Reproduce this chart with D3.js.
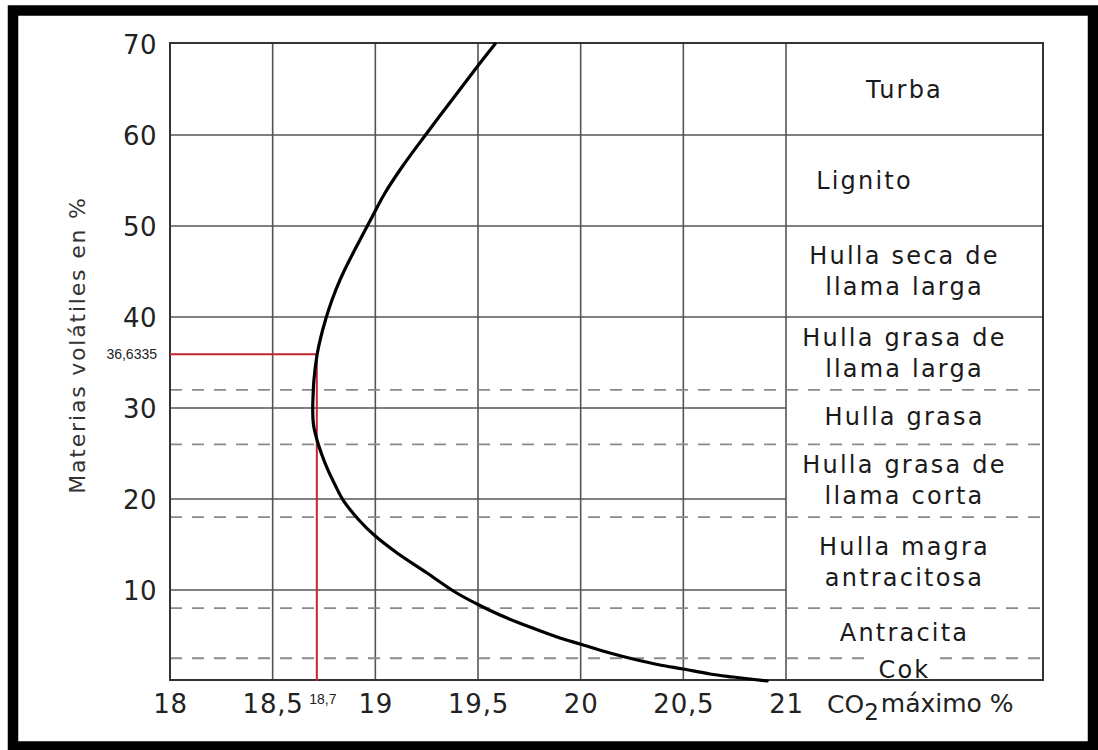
<!DOCTYPE html>
<html><head><meta charset="utf-8">
<script src="https://cdn.jsdelivr.net/npm/d3@7"></script>
<style>body{margin:0;background:#fff}</style>
</head><body>
<svg id="c" width="1098" height="750"></svg>
<script>
// ---------- data ----------
const xTickValues = [18, 18.5, 19, 19.5, 20, 20.5, 21];
const xTickLabels = ["18", "18,5", "19", "19,5", "20", "20,5", "21"];
const yTickValues = [10, 20, 30, 40, 50, 60, 70];
const yTickLabels = ["10", "20", "30", "40", "50", "60", "70"];

// curve: CO2 máximo (%) vs materias volátiles (%)
const co2Max    = [19.583, 19.495, 19.373, 19.237, 19.130, 19.047, 18.984, 18.925, 18.867, 18.828, 18.789, 18.760, 18.731, 18.716, 18.701, 18.697, 18.695, 18.699, 18.716, 18.740, 18.769, 18.804, 18.843, 18.920, 18.994, 19.106, 19.252, 19.388, 19.495, 19.607, 19.753, 19.899, 19.997, 20.143, 20.255, 20.386, 20.498, 20.630, 20.742, 20.908];
const volatiles = [70.0, 67.47, 63.85, 59.78, 56.48, 53.63, 50.99, 48.46, 45.93, 44.07, 41.87, 39.89, 37.47, 35.82, 33.08, 31.43, 29.78, 28.13, 26.48, 24.84, 23.19, 21.54, 19.89, 17.69, 16.04, 14.07, 11.87, 9.78, 8.46, 7.25, 5.93, 4.73, 4.07, 3.08, 2.42, 1.76, 1.32, 0.77, 0.44, 0.0];

// coal ranks (bands of volatile matter)
const rankNames = [["Turba"], ["Lignito"], ["Hulla seca de", "llama larga"], ["Hulla grasa de", "llama larga"],
  ["Hulla grasa"], ["Hulla grasa de", "llama corta"], ["Hulla magra", "antracitosa"], ["Antracita"], ["Cok"]];
const rankTop    = [70, 60, 50, 40, 32, 26, 18, 8, 2.5];
const rankBottom = [60, 50, 40, 32, 26, 18, 8, 2.5, 0];
const solidBounds  = [60, 50, 40];
const dashedBounds = [32, 26, 18, 8, 2.5];

// reference reading (red lines)
const refCo2 = 18.715, refVol = 35.9;
const refCo2Label = "18,7", refVolLabel = "36,6335";

// ---------- drawing ----------
const svg = d3.select("#c");
const x = d3.scaleLinear().domain([18, 21]).range([170, 786]);
const y = d3.scaleLinear().domain([0, 70]).range([681, 44]);
const tableRight = 1043;
const gridColor = "#555";
const font = "'DejaVu Sans', Verdana, sans-serif";

svg.append("rect").attr("x", 0).attr("y", 0).attr("width", 1098).attr("height", 750).attr("fill", "#fff");

const g = svg.append("g");

// vertical grid lines
g.selectAll("line.vx").data(xTickValues.filter(v => v > 18)).join("line")
  .attr("x1", d => x(d)).attr("x2", d => x(d))
  .attr("y1", y(70)).attr("y2", y(0))
  .attr("stroke", gridColor).attr("stroke-width", 1.6);

// horizontal solid grid (chart area only)
g.selectAll("line.hy").data(yTickValues.filter(v => v < 70 && !solidBounds.includes(v))).join("line")
  .attr("x1", x(18)).attr("x2", x(21))
  .attr("y1", d => y(d)).attr("y2", d => y(d))
  .attr("stroke", gridColor).attr("stroke-width", 1.6);

// solid bounds that cross into the table
g.selectAll("line.hs").data(solidBounds).join("line")
  .attr("x1", x(18)).attr("x2", tableRight)
  .attr("y1", d => y(d)).attr("y2", d => y(d))
  .attr("stroke", gridColor).attr("stroke-width", 1.6);

// dashed bounds
g.selectAll("line.hd").data(dashedBounds).join("line")
  .attr("x1", x(18)).attr("x2", tableRight)
  .attr("y1", d => y(d)).attr("y2", d => y(d))
  .attr("stroke", "#8a8a8a").attr("stroke-width", 1.8)
  .attr("stroke-dasharray", "12,10");

// outer rectangle of chart + table
g.append("rect").attr("x", x(18)).attr("y", y(70) - 1).attr("width", tableRight - x(18)).attr("height", y(0) - y(70))
  .attr("fill", "none").attr("stroke", "#333").attr("stroke-width", 2);

// rank labels
const colCenter = (x(21) + tableRight) / 2 - 10;
const lineGap = 31;
rankNames.forEach((lines, i) => {
  const cy = y((rankTop[i] + rankBottom[i]) / 2);
  const dx = lines[0] === "Lignito" ? -40 : 0;
  const grp = g.append("g");
  lines.forEach((t, j) => {
    const ty = cy + (j - (lines.length - 1) / 2) * lineGap;
    const txt = grp.append("text").attr("x", colCenter + dx).attr("y", ty)
      .attr("text-anchor", "middle").attr("dominant-baseline", "central")
      .attr("font-family", font).attr("font-size", 24).attr("letter-spacing", 2.2)
      .attr("fill", "#1a1a1a").text(t);
    if (t === "Cok") {
      const bb = txt.node().getBBox();
      grp.insert("rect", "text").attr("x", bb.x - 6).attr("y", y(2.5) - 3)
        .attr("width", bb.width + 10).attr("height", 6).attr("fill", "#fff");
    }
  });
});

// red reference lines
g.append("line").attr("x1", x(18)).attr("x2", x(refCo2)).attr("y1", y(refVol)).attr("y2", y(refVol))
  .attr("stroke", "#c1272d").attr("stroke-width", 2);
g.append("line").attr("x1", x(refCo2)).attr("x2", x(refCo2)).attr("y1", y(refVol)).attr("y2", y(0))
  .attr("stroke", "#c1272d").attr("stroke-width", 2);

// curve
const pts = co2Max.map((c, i) => [c, volatiles[i]]);
g.append("path").datum(pts)
  .attr("d", d3.line().x(d => x(d[0])).y(d => y(d[1])).curve(d3.curveCatmullRom.alpha(0.5)))
  .attr("fill", "none").attr("stroke", "#000").attr("stroke-width", 3.2)
  .attr("stroke-linecap", "round");

// y axis (labels only)
const yAxis = d3.axisLeft(y).tickValues(yTickValues).tickFormat((d, i) => yTickLabels[i]).tickSize(0).tickPadding(13);
const ya = svg.append("g").attr("transform", `translate(${x(18)},0)`).call(yAxis);
ya.select(".domain").remove();
ya.selectAll("text").attr("font-family", font).attr("font-size", 26).attr("letter-spacing", 0.5)
  .attr("fill", "#222").attr("dy", "0.36em");

// x axis (labels only)
const xAxis = d3.axisBottom(x).tickValues(xTickValues).tickFormat((d, i) => xTickLabels[i]).tickSize(0).tickPadding(0);
const xa = svg.append("g").attr("transform", `translate(0,${y(0)})`).call(xAxis);
xa.select(".domain").remove();
xa.selectAll("text").attr("font-family", font).attr("font-size", 26).attr("letter-spacing", 0.8)
  .attr("fill", "#222").attr("y", 23).attr("dy", "0.36em");

// reference value labels
svg.append("text").attr("x", x(18) - 13).attr("y", y(refVol)).attr("dy", "0.35em")
  .attr("text-anchor", "end").attr("font-family", "'Liberation Sans', Arial, sans-serif").attr("font-size", 14)
  .attr("fill", "#222").text(refVolLabel);
svg.append("text").attr("x", x(refCo2) + 6).attr("y", y(0) + 18).attr("dy", "0.35em")
  .attr("text-anchor", "middle").attr("font-family", "'Liberation Sans', Arial, sans-serif").attr("font-size", 14)
  .attr("fill", "#222").text(refCo2Label);

// x axis title
const xt = svg.append("text").attr("x", 827).attr("y", y(0) + 23).attr("dy", "0.36em")
  .attr("font-family", font).attr("font-size", 25).attr("fill", "#222");
xt.append("tspan").text("CO");
xt.append("tspan").attr("dy", "0.3em").attr("font-size", 23).text("2");
xt.append("tspan").attr("dy", "-0.3em").attr("dx", 2).text("máximo %");

// y axis title
svg.append("text").attr("transform", `translate(77,345) rotate(-90)`)
  .attr("text-anchor", "middle").attr("dominant-baseline", "central")
  .attr("font-family", font).attr("font-size", 22).attr("letter-spacing", 1.8)
  .attr("fill", "#333").text("Materias volátiles en %");

// black frame
svg.append("rect").attr("x", 13).attr("y", 10.5).attr("width", 1080).attr("height", 736)
  .attr("fill", "none").attr("stroke", "#000").attr("stroke-width", 10.5);
</script>
</body></html>
